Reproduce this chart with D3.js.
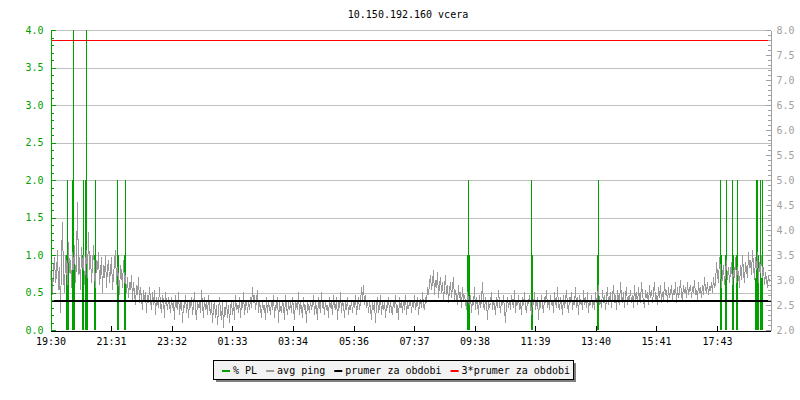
<!DOCTYPE html>
<html><head><meta charset="utf-8">
<script src="https://cdn.jsdelivr.net/npm/d3@7"></script>
<style>
html,body{margin:0;padding:0;background:#fff;}
svg text{font-family:"DejaVu Sans Mono",monospace;font-size:10px;}
</style></head>
<body><svg id="c" width="800" height="400"></svg>
<script>
const title = "10.150.192.160 vcera";
const timeTickMinutes = [0,121,242,363,484,606,727,848,969,1090,1211,1333];
const timeTickLabels = ["19:30","21:31","23:32","01:33","03:34","05:36","07:37","09:38","11:39","13:40","15:41","17:43"];
const leftTicks = [0.0,0.5,1.0,1.5,2.0,2.5,3.0,3.5,4.0];
const rightTicks = [2.0,2.5,3.0,3.5,4.0,4.5,5.0,5.5,6.0,6.5,7.0,7.5,8.0];
const legendNames = ["% PL","avg ping","prumer za obdobi","3*prumer za obdobi"];
const legendColors = ["#00a000","#999999","#000000","#ff0000"];
// packet loss events: minute offset from 19:30, value in %
const plMinutes = [1,31,33,35,43,45,47,63,65,69,71,73,87,89,133,135,147,149,
  833,835,837,963,965,1093,1095,
  1339,1341,1349,1351,1363,1365,1371,1373,1409,1411,1413,1415,1417,1419,1421,1423];
const plValues = [1.0,1.0,2.0,1.0,2.0,4.5,1.0,1.0,2.0,2.0,4.5,1.0,1.0,2.0,2.0,1.0,1.0,2.0,
  1.0,2.0,1.0,2.0,1.0,1.0,2.0,
  2.0,1.0,1.0,2.0,2.0,1.0,1.0,2.0,0.7,2.0,0.7,2.0,1.0,2.0,0.7,2.0];
// avg ping (ms), one sample every 2 minutes from 19:30
const pingStepMinutes = 2;
const pingValues = [
3.00,3.35,2.70,3.20,3.45,2.95,3.10,3.60,2.80,3.25,2.35,3.40,4.15,3.05,2.75,3.50,3.30,2.90,3.75,3.15,
3.40,2.85,3.55,3.20,3.70,2.95,3.35,4.55,3.10,3.45,2.80,3.65,3.25,3.50,2.90,3.30,3.60,3.05,3.95,3.20,
3.50,2.95,3.30,3.70,3.10,2.85,3.40,3.20,3.55,2.90,3.15,3.45,2.75,3.30,3.05,3.50,2.85,3.25,3.40,2.95,
3.20,3.45,2.80,3.10,3.35,3.60,2.90,3.25,3.05,2.70,3.30,3.15,2.85,3.40,2.95,3.10,2.75,3.05,2.65,2.95,
2.80,3.10,2.60,2.95,2.75,2.50,2.90,2.70,3.05,2.55,2.85,2.65,2.40,2.80,2.60,2.75,2.35,2.70,2.55,2.85,
2.60,2.40,2.75,2.50,2.80,2.30,2.65,2.55,2.45,2.85,2.50,2.35,2.70,2.60,2.25,2.75,2.55,2.40,2.65,2.50,
2.35,2.65,2.45,2.55,2.20,2.70,2.50,2.40,2.75,2.30,2.55,2.60,2.15,2.50,2.45,2.70,2.35,2.60,2.25,2.55,
2.45,2.65,2.30,2.50,2.75,2.40,2.20,2.60,2.45,2.55,2.35,2.80,2.50,2.25,2.65,2.40,2.55,2.30,2.70,2.45,
2.30,2.55,2.15,2.45,2.60,2.25,2.50,2.10,2.40,2.65,2.35,2.20,2.55,2.05,2.45,2.30,2.60,2.25,2.50,2.15,
2.45,2.60,2.30,2.55,2.20,2.70,2.40,2.50,2.35,2.65,2.25,2.55,2.45,2.75,2.30,2.50,2.60,2.35,2.55,2.40,
2.65,2.45,2.85,2.55,2.70,2.40,2.60,2.80,2.35,2.55,2.45,2.25,2.60,2.40,2.50,2.20,2.65,2.35,2.55,2.45,
2.30,2.60,2.40,2.70,2.25,2.50,2.45,2.65,2.15,2.55,2.40,2.35,2.60,2.50,2.20,2.70,2.45,2.30,2.55,2.40,
2.55,2.35,2.65,2.45,2.20,2.60,2.50,2.40,2.75,2.30,2.55,2.45,2.25,2.65,2.40,2.50,2.15,2.60,2.45,2.35,
2.60,2.40,2.50,2.70,2.30,2.55,2.45,2.20,2.65,2.50,2.35,2.75,2.45,2.55,2.30,2.60,2.40,2.50,2.25,2.65,
2.45,2.55,2.30,2.70,2.50,2.40,2.65,2.20,2.55,2.45,2.75,2.35,2.60,2.50,2.25,2.55,2.40,2.65,2.30,2.50,
2.40,2.60,2.35,2.55,2.45,2.70,2.30,2.50,2.65,2.40,2.55,2.85,2.60,2.90,2.50,2.70,2.45,2.60,2.35,2.55,
2.45,2.20,2.60,2.40,2.55,2.15,2.50,2.65,2.35,2.45,2.70,2.30,2.55,2.40,2.60,2.25,2.50,2.45,2.65,2.35,
2.55,2.40,2.30,2.60,2.45,2.70,2.35,2.50,2.20,2.65,2.45,2.55,2.35,2.60,2.40,2.70,2.30,2.55,2.45,2.50,
2.60,2.35,2.55,2.45,2.70,2.40,2.50,2.65,2.30,2.55,2.60,2.45,2.75,2.50,2.40,2.65,2.55,2.85,2.70,2.95,
3.10,2.80,2.95,3.20,2.70,3.00,2.85,3.15,2.65,2.90,3.05,2.75,2.95,2.60,2.85,3.10,2.70,2.90,2.55,2.80,
2.95,2.65,2.85,3.05,2.60,2.80,2.70,2.50,2.90,2.65,2.75,2.45,2.85,2.60,2.70,2.55,2.40,2.75,2.60,2.50,
2.70,2.35,2.60,2.50,2.85,2.40,2.65,2.55,2.30,2.70,2.45,2.60,2.95,2.50,2.40,2.65,2.55,2.20,2.60,2.45,
2.55,2.75,2.40,2.60,2.50,2.30,2.65,2.45,2.80,2.55,2.35,2.60,2.50,2.70,2.40,2.15,2.55,2.65,2.45,2.60,
2.40,2.70,2.55,2.45,2.80,2.35,2.60,2.50,2.70,2.40,2.55,2.30,2.65,2.50,2.75,2.45,2.35,2.60,2.55,2.70,
2.45,2.30,2.60,2.50,2.75,2.40,2.55,2.65,2.20,2.60,2.45,2.70,2.50,2.35,2.65,2.55,2.80,2.45,2.60,2.40,
2.70,2.50,2.60,2.35,2.75,2.55,2.45,2.85,2.50,2.40,2.65,2.55,2.30,2.70,2.45,2.60,2.80,2.50,2.35,2.65,
2.55,2.75,2.40,2.60,2.50,2.85,2.45,2.65,2.30,2.70,2.55,2.60,2.40,2.80,2.50,2.65,2.45,2.75,2.35,2.60,
2.50,2.70,2.45,2.60,2.40,2.75,2.55,2.65,2.90,2.50,2.60,2.45,2.80,2.55,2.70,2.40,2.65,2.85,2.50,2.60,
2.75,2.45,2.65,2.90,2.55,2.70,2.40,2.80,2.60,2.50,2.95,2.65,2.55,2.75,2.45,2.70,2.85,2.50,2.65,2.60,
2.80,2.55,2.70,2.45,2.90,2.60,2.75,2.50,2.85,2.65,2.55,2.95,2.70,2.60,2.45,2.80,2.65,2.75,2.50,2.90,
2.65,2.80,2.55,2.75,2.95,2.60,2.70,2.50,2.85,2.65,2.90,2.55,2.75,2.60,2.95,2.70,2.80,2.55,2.85,2.65,
2.75,2.90,2.60,2.80,2.70,2.95,2.55,2.85,2.65,2.75,3.00,2.70,2.60,2.90,2.75,2.85,2.65,2.95,2.70,2.80,
2.90,2.65,2.85,2.75,3.00,2.70,2.80,2.60,2.95,2.75,2.85,2.65,2.90,2.70,3.05,2.80,2.75,2.95,2.70,2.85,
2.80,2.95,2.75,3.05,2.85,2.90,3.35,3.10,2.95,3.45,3.20,2.85,3.10,3.30,2.90,3.15,3.40,3.00,3.25,2.95,
3.15,3.35,2.90,3.20,3.05,3.45,2.95,3.25,3.10,2.85,3.30,3.00,3.50,3.15,2.95,3.35,3.20,3.05,3.55,3.25,
3.40,3.10,3.60,3.30,3.00,3.45,3.20,3.55,2.95,3.35,3.15,3.50,3.05,3.25,2.90,3.15,3.00,2.85,3.10,2.95];
const pingMean = 2.6;
const pingMean3 = 7.8;

const svg = d3.select("#c");
const L = 50.5, R = 770.5, T = 30, B = 330;
const x = d3.scaleLinear().domain([0,1440]).range([L,R]);
const yL = d3.scaleLinear().domain([0,4]).range([B,T]).clamp(true);
const yR = d3.scaleLinear().domain([2,8]).range([B,T]).clamp(true);

svg.append("defs").append("clipPath").attr("id","pc").append("rect")
  .attr("x",L).attr("y",T).attr("width",R-L).attr("height",B-T);

// title
svg.append("text").attr("x",408).attr("y",18).attr("text-anchor","middle").attr("fill","#000").text(title);

// grid
svg.append("g").attr("shape-rendering","crispEdges").selectAll("line").data(leftTicks.filter(d=>d>0)).join("line")
  .attr("x1",L).attr("x2",R).attr("y1",d=>Math.round(yL(d))+0.5).attr("y2",d=>Math.round(yL(d))+0.5)
  .attr("stroke","#c0c0c0").attr("stroke-width",1);

const plot = svg.append("g").attr("clip-path","url(#pc)");
// packet loss bars
plot.append("g").attr("shape-rendering","crispEdges").selectAll("rect")
  .data(plMinutes.map((m,i)=>({m,v:plValues[i]}))).join("rect")
  .attr("x",d=>Math.floor(x(d.m))).attr("width",1)
  .attr("y",d=>Math.round(yL(d.v))).attr("height",d=>B-Math.round(yL(d.v))).attr("fill","#00a000");
// ping line
const line = d3.line().x((d,i)=>x(i*pingStepMinutes)).y(d=>yR(d));
plot.append("path").datum(pingValues).attr("d",line).attr("fill","none")
  .attr("stroke","#999999").attr("stroke-width",1).attr("shape-rendering","crispEdges");
// mean lines
svg.append("line").attr("x1",L).attr("x2",R).attr("y1",yR(pingMean)+1).attr("y2",yR(pingMean)+1)
  .attr("stroke","#000").attr("stroke-width",2).attr("shape-rendering","crispEdges");
svg.append("line").attr("x1",L).attr("x2",R).attr("y1",Math.round(yR(pingMean3))+0.5).attr("y2",Math.round(yR(pingMean3))+0.5)
  .attr("stroke","#ff0000").attr("stroke-width",1).attr("shape-rendering","crispEdges");

// bottom axis
const ax = svg.append("g").attr("transform",`translate(0,${B+0.5})`).attr("shape-rendering","crispEdges")
  .call(d3.axisBottom(x).tickValues(timeTickMinutes).tickFormat((d,i)=>timeTickLabels[i]).tickSizeInner(-5).tickSizeOuter(0).tickPadding(7));
ax.select(".domain").attr("stroke","#000");
ax.selectAll(".tick line").attr("stroke","#000");
ax.selectAll("text").attr("fill","#000");
ax.attr("font-size",null).attr("font-family",null);

// left axis
const minorL = d3.range(0,41).map(d=>d/10).filter(d=>Math.abs(d*2-Math.round(d*2))>1e-6);
const gLm = svg.append("g").attr("transform",`translate(${L},0)`).attr("shape-rendering","crispEdges")
  .call(d3.axisLeft(yL).tickValues(minorL).tickFormat("").tickSizeInner(-3).tickSizeOuter(0));
gLm.select(".domain").remove();
gLm.selectAll(".tick line").attr("stroke","#00a000");
const gL = svg.append("g").attr("transform",`translate(${L},0)`).attr("shape-rendering","crispEdges")
  .call(d3.axisLeft(yL).tickValues(leftTicks).tickFormat(d3.format(".1f")).tickSizeInner(-5).tickSizeOuter(0).tickPadding(7));
gL.select(".domain").attr("stroke","#00a000");
gL.selectAll(".tick line").attr("stroke","#00a000");
gL.selectAll("text").attr("fill","#00a000");
gL.attr("font-size",null).attr("font-family",null);

// right axis
const minorR = d3.range(20,81).map(d=>d/10).filter(d=>Math.abs(d*2-Math.round(d*2))>1e-6);
const gRm = svg.append("g").attr("transform",`translate(${R},0)`).attr("shape-rendering","crispEdges")
  .call(d3.axisRight(yR).tickValues(minorR).tickFormat("").tickSizeInner(-3).tickSizeOuter(0));
gRm.select(".domain").remove();
gRm.selectAll(".tick line").attr("stroke","#a0a0a0");
const gR = svg.append("g").attr("transform",`translate(${R},0)`).attr("shape-rendering","crispEdges")
  .call(d3.axisRight(yR).tickValues(rightTicks).tickFormat(d3.format(".1f")).tickSizeInner(-5).tickSizeOuter(0).tickPadding(6));
gR.select(".domain").attr("stroke","#a0a0a0");
gR.selectAll(".tick line").attr("stroke","#a0a0a0");
gR.selectAll("text").attr("fill","#a0a0a0");
gR.attr("font-size",null).attr("font-family",null);

// legend
const lg = svg.append("g");
const lx0 = 213, ly0 = 360, lw = 360, lh = 19;
lg.append("rect").attr("x",lx0+3).attr("y",ly0+3).attr("width",lw).attr("height",lh).attr("fill","#808080");
lg.append("rect").attr("x",lx0+0.5).attr("y",ly0+0.5).attr("width",lw).attr("height",lh).attr("fill","#f2f2f2").attr("stroke","#000");
let cx = lx0 + 9;
legendNames.forEach((name,i)=>{
  lg.append("rect").attr("x",cx).attr("y",ly0+10).attr("width",8).attr("height",2).attr("fill",legendColors[i]);
  const t = lg.append("text").attr("x",cx+11).attr("y",ly0+14).attr("fill","#000").text(name);
  const w = t.node().getComputedTextLength();
  cx = cx + 11 + w + 9;
});
</script></body></html>
